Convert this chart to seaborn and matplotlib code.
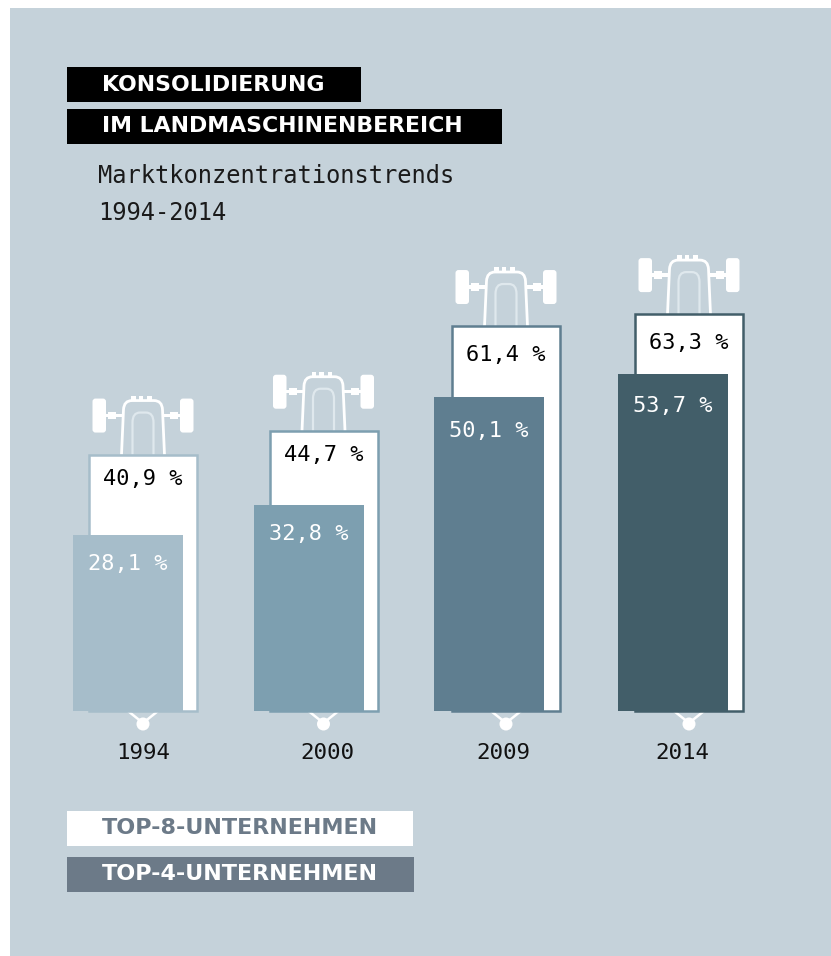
# -*- coding: utf-8 -*-
"""Konsolidierung im Landmaschinenbereich: overlapping bars with tractor icons."""

import matplotlib
matplotlib.use("Agg")
import matplotlib.pyplot as plt
from matplotlib.patches import FancyBboxPatch, PathPatch, Rectangle, Circle
from matplotlib.path import Path
import pandas as pd
import seaborn as sns

# =============================================================================
# Data
# =============================================================================
YEARS = ["1994", "2000", "2009", "2014"]
TOP_8 = [40.9, 44.7, 61.4, 63.3]
TOP_4 = [28.1, 32.8, 50.1, 53.7]
BAR_COLORS = ["#a6bdca", "#7d9fb0", "#5f7e90", "#425e69"]

TITLE_LINES = ["KONSOLIDIERUNG", "IM LANDMASCHINENBEREICH"]
SUB_LINES = ["Marktkonzentrationstrends", "1994-2014"]
LEGEND_LINES = ["TOP-8-UNTERNEHMEN", "TOP-4-UNTERNEHMEN"]

# =============================================================================
# Layout (pixels of the 831x956 canvas)
# =============================================================================
W, H = 831, 956
BASELINE = 711.0
PX_PER_PCT = 6.27
BAR_W = 108.0
POS_8 = [143.0, 323.5, 506.0, 689.0]
POS_4 = [127.5, 308.5, 488.5, 672.5]
YEAR_X = [143, 327, 503, 682]
PAD_8 = [-25, -25, -28, -28]
PAD_4 = [-28, -28, -32, -30]

PANEL = "#c5d2da"
LEGEND_GREY = "#6c7a88"
MONO = "DejaVu Sans Mono"
HEAD = "DejaVu Sans"


def px(size):
    """Font size in points from a size in pixels (dpi 100)."""
    return size * 0.72


def pct_label(value):
    return f"{value:.1f}".replace(".", ",") + " %"


def draw_tractor(ax, cx, top):
    """Tractor seen from above, standing on the top edge of a bar."""
    white = dict(fc="white", ec="none", zorder=2)
    for sign in (-1, 1):
        wheel_x = cx + (37 if sign > 0 else -50.5)
        ax.add_patch(FancyBboxPatch(
            (wheel_x + 2, top - 54), 9.5, 30,
            boxstyle="round,pad=2,rounding_size=3", **white))
        x0, x1 = sorted([cx + sign * 20, cx + sign * 38])
        ax.add_patch(Rectangle((x0, top - 41), x1 - x0, 3.5, **white))
        x0, x1 = sorted([cx + sign * 27, cx + sign * 35])
        ax.add_patch(Rectangle((x0, top - 43), x1 - x0, 7.5, **white))

    # hood outline and inner arch
    hood = [
        (Path.MOVETO, (cx - 21.5, top)),
        (Path.LINETO, (cx - 19.5, top - 45)),
        (Path.CURVE3, (cx - 19, top - 54)),
        (Path.CURVE3, (cx - 11, top - 54)),
        (Path.LINETO, (cx + 11, top - 54)),
        (Path.CURVE3, (cx + 19, top - 54)),
        (Path.CURVE3, (cx + 19.5, top - 45)),
        (Path.LINETO, (cx + 21.5, top)),
    ]
    codes, verts = zip(*hood)
    ax.add_patch(PathPatch(Path(verts, codes), fc=PANEL, ec="white", lw=2.0, zorder=2))
    arch = [
        (Path.MOVETO, (cx - 10.5, top)),
        (Path.LINETO, (cx - 10.5, top - 32)),
        (Path.CURVE3, (cx - 10.5, top - 42)),
        (Path.CURVE3, (cx - 3, top - 42)),
        (Path.LINETO, (cx + 3, top - 42)),
        (Path.CURVE3, (cx + 10.5, top - 42)),
        (Path.CURVE3, (cx + 10.5, top - 32)),
        (Path.LINETO, (cx + 10.5, top)),
    ]
    codes, verts = zip(*arch)
    ax.add_patch(PathPatch(Path(verts, codes), fc=PANEL, ec="#dfe8ed", lw=1.6, zorder=2))
    for dx in (-12, -4.3, 4):
        ax.add_patch(Rectangle((cx + dx, top - 59), 4.6, 5, **white))


def draw_hook(ax, cx):
    """Small white connector below a bar, leading to the year label."""
    ax.plot([cx - 15, cx, cx + 15], [BASELINE, 723, BASELINE],
            color="white", lw=1.8, zorder=2)
    ax.add_patch(Circle((cx, 724), 6.5, fc="white", ec="none", zorder=2))


def main():
    sns.set_theme(style="white")

    df = pd.DataFrame({
        "year": YEARS,
        "top8": TOP_8,
        "top4": TOP_4,
        "x8": POS_8,
        "x4": POS_4,
    })
    palette = dict(zip(YEARS, BAR_COLORS))

    fig = plt.figure(figsize=(W / 100, H / 100), dpi=100, facecolor="white")

    # background layer in pixel coordinates
    ax_bg = fig.add_axes([0, 0, 1, 1], zorder=0)
    ax_bg.set_xlim(0, W)
    ax_bg.set_ylim(H, 0)
    ax_bg.axis("off")
    ax_bg.add_patch(Rectangle((10, 8), W - 10, H - 8, fc=PANEL, ec="none", zorder=0))

    # bar layer: x still in canvas pixels, y in percent with the same canvas height
    ax = fig.add_axes([0, 0, 1, 1], zorder=1)
    ax.patch.set_alpha(0)
    sns.barplot(
        data=df, x="x8", y="top8", hue="year", hue_order=YEARS,
        palette=["white"] * 4, native_scale=True, dodge=False, saturation=1,
        width=BAR_W / 180.5, legend=False, ax=ax, zorder=3,
    )
    for container, color, pad in zip(ax.containers, BAR_COLORS, PAD_8):
        for patch in container:
            patch.set_edgecolor(color)
            patch.set_linewidth(1.8)
        ax.bar_label(container, labels=[pct_label(container.datavalues[0])],
                     padding=pad, color="black", fontsize=px(22),
                     fontfamily=MONO, zorder=4)
    n_top8 = len(ax.containers)

    sns.barplot(
        data=df, x="x4", y="top4", hue="year", hue_order=YEARS,
        palette=palette, native_scale=True, dodge=False, saturation=1,
        width=110 / 180, legend=False, ax=ax, zorder=5,
        edgecolor="none", linewidth=0,
    )
    for container, pad in zip(ax.containers[n_top8:], PAD_4):
        ax.bar_label(container, labels=[pct_label(container.datavalues[0])],
                     padding=pad, color="white", fontsize=px(22),
                     fontfamily=MONO, zorder=6)

    ax.set_xlim(0, W)
    ax.set_ylim(-(H - BASELINE) / PX_PER_PCT, BASELINE / PX_PER_PCT)
    ax.axis("off")

    # tractors and connectors follow the bar values
    for cx, value in zip(POS_8, TOP_8):
        draw_tractor(ax_bg, cx, BASELINE - value * PX_PER_PCT)
        draw_hook(ax_bg, cx)

    for x, year in zip(YEAR_X, YEARS):
        ax_bg.text(x, 753, year, ha="center", va="center", family=MONO,
                   fontsize=px(22.5), color="#111111", zorder=7)

    # title blocks
    ax_bg.add_patch(Rectangle((67, 67), 294, 35, fc="black", ec="none", zorder=1))
    ax_bg.add_patch(Rectangle((67, 109), 435, 35, fc="black", ec="none", zorder=1))
    for y, line in zip((85, 126), TITLE_LINES):
        ax_bg.text(102, y, line, ha="left", va="center", family=HEAD,
                   weight="bold", fontsize=px(22), color="white", zorder=7)

    for y, line in zip((176, 213), SUB_LINES):
        ax_bg.text(98, y, line, ha="left", va="center", family=MONO,
                   fontsize=px(23.8), color="#1a1a1a", zorder=7)

    # legend blocks
    ax_bg.add_patch(Rectangle((67, 811), 346, 35, fc="white", ec="none", zorder=1))
    ax_bg.add_patch(Rectangle((67, 857), 347, 35, fc=LEGEND_GREY, ec="none", zorder=1))
    for y, line, color in zip((828, 874), LEGEND_LINES, (LEGEND_GREY, "white")):
        ax_bg.text(102, y, line, ha="left", va="center", family=HEAD,
                   weight="bold", fontsize=px(22.3), color=color, zorder=7)

    fig.savefig("out.png", dpi=100, facecolor="white")
    plt.close(fig)


if __name__ == "__main__":
    main()
